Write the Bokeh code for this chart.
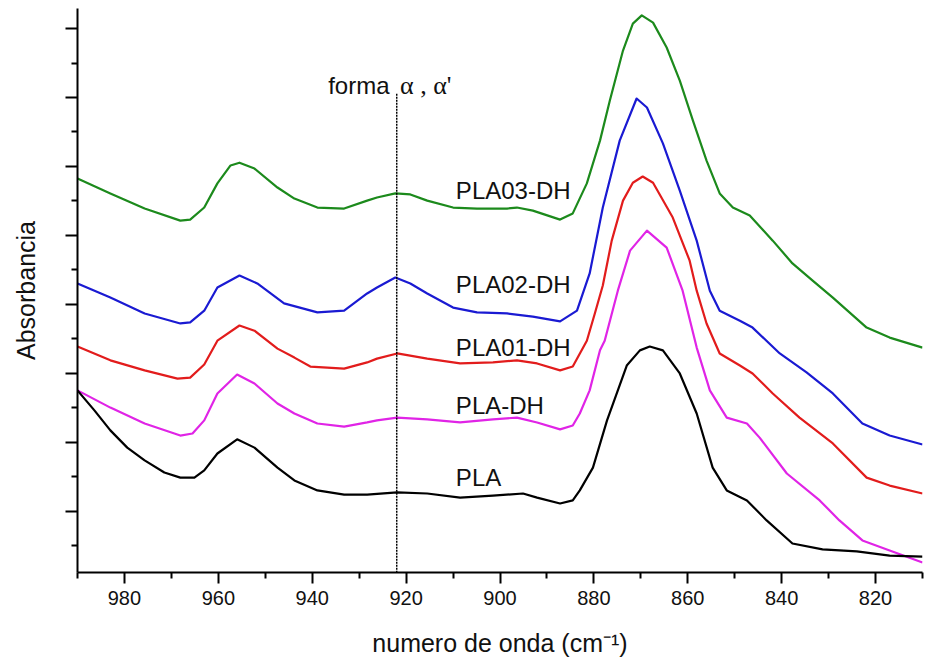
from bokeh.plotting import figure
from bokeh.models import Range1d, FixedTicker, CustomJSTickFormatter
from bokeh.core.properties import value
from bokeh.embed import file_html
from bokeh.resources import INLINE

# ---- data ----
green_x = [990, 983.0, 975.7, 968.1, 966.0, 963.0, 960.2, 957.4, 955.5, 952.3, 947.4, 943.8, 938.9, 933.2, 928.3, 926.2, 922.3, 919.1, 915.5, 910.0, 904.9, 898.5, 896.4, 893.0, 887.2, 884.5, 881.5, 878.7, 876.6, 873.8, 871.7, 869.8, 867.4, 864.5, 861.7, 858.9, 856.0, 853.2, 850.4, 846.8, 841.9, 837.7, 833.4, 829.1, 821.9, 817.0, 810.0]
green_y = [1.165, 1.122, 1.078, 1.043, 1.046, 1.081, 1.151, 1.203, 1.211, 1.194, 1.139, 1.107, 1.081, 1.078, 1.101, 1.110, 1.122, 1.119, 1.101, 1.081, 1.078, 1.078, 1.081, 1.072, 1.046, 1.064, 1.151, 1.275, 1.391, 1.536, 1.614, 1.638, 1.617, 1.545, 1.449, 1.333, 1.217, 1.122, 1.081, 1.058, 0.985, 0.919, 0.869, 0.820, 0.733, 0.704, 0.675]

blue_x = [990, 983.0, 975.7, 968.1, 966.0, 963.0, 960.2, 955.5, 951.7, 946.0, 938.9, 933.2, 928.3, 926.2, 922.3, 919.1, 915.5, 910.0, 904.9, 898.5, 893.0, 887.2, 883.6, 880.9, 878.1, 874.5, 870.9, 868.7, 865.3, 861.7, 858.1, 855.3, 853.2, 848.9, 846.2, 840.4, 834.7, 829.1, 822.8, 817.0, 810.0]
blue_y = [0.861, 0.820, 0.774, 0.745, 0.748, 0.782, 0.849, 0.884, 0.861, 0.803, 0.777, 0.782, 0.832, 0.849, 0.878, 0.861, 0.832, 0.791, 0.777, 0.774, 0.765, 0.751, 0.782, 0.890, 1.081, 1.275, 1.397, 1.371, 1.267, 1.130, 0.985, 0.840, 0.782, 0.753, 0.733, 0.658, 0.603, 0.542, 0.455, 0.420, 0.394]

red_x = [990, 983.0, 975.7, 968.7, 966.0, 963.0, 960.2, 955.5, 952.3, 947.4, 943.8, 940.4, 933.2, 928.3, 926.2, 921.9, 915.5, 908.5, 901.5, 896.4, 892.1, 887.2, 884.5, 881.5, 879.8, 878.1, 876.2, 873.8, 871.7, 869.6, 867.4, 863.2, 859.6, 858.1, 856.0, 853.2, 848.9, 846.2, 841.9, 836.2, 829.1, 821.9, 817.0, 810.0]
red_y = [0.678, 0.638, 0.609, 0.585, 0.588, 0.626, 0.695, 0.739, 0.724, 0.672, 0.646, 0.620, 0.614, 0.632, 0.643, 0.658, 0.643, 0.629, 0.632, 0.638, 0.629, 0.609, 0.620, 0.695, 0.774, 0.855, 0.985, 1.101, 1.153, 1.171, 1.153, 1.052, 0.927, 0.840, 0.745, 0.658, 0.623, 0.600, 0.542, 0.472, 0.397, 0.298, 0.275, 0.252]

magenta_x = [990, 983.0, 975.7, 968.1, 965.5, 963.0, 960.2, 956.0, 952.3, 947.4, 943.8, 938.9, 933.2, 928.3, 926.2, 921.9, 915.5, 908.5, 901.5, 896.4, 892.1, 887.2, 884.5, 883.0, 880.9, 878.7, 877.7, 874.9, 872.3, 868.7, 864.5, 861.1, 858.1, 855.3, 851.7, 847.4, 844.7, 838.9, 831.9, 827.7, 822.8, 817.0, 810.0]
magenta_y = [0.551, 0.501, 0.455, 0.420, 0.426, 0.464, 0.542, 0.597, 0.571, 0.513, 0.484, 0.455, 0.446, 0.458, 0.464, 0.472, 0.467, 0.458, 0.467, 0.472, 0.458, 0.438, 0.449, 0.484, 0.551, 0.667, 0.695, 0.840, 0.956, 1.014, 0.965, 0.840, 0.675, 0.551, 0.472, 0.455, 0.414, 0.310, 0.232, 0.174, 0.116, 0.087, 0.052]

black_x = [990, 986.4, 983.0, 979.4, 975.7, 971.5, 968.1, 965.1, 963.0, 960.2, 956.0, 952.3, 947.4, 943.8, 938.9, 933.2, 928.3, 921.9, 915.5, 908.5, 901.5, 895.1, 892.1, 887.2, 884.5, 883.0, 880.2, 877.2, 873.0, 870.2, 868.1, 865.3, 861.7, 858.1, 854.7, 851.7, 847.4, 843.2, 837.7, 831.3, 824.0, 817.0, 810.0]
black_y = [0.551, 0.493, 0.435, 0.385, 0.348, 0.313, 0.298, 0.298, 0.319, 0.368, 0.409, 0.385, 0.327, 0.290, 0.261, 0.249, 0.249, 0.255, 0.252, 0.240, 0.246, 0.252, 0.240, 0.223, 0.232, 0.261, 0.327, 0.464, 0.623, 0.667, 0.678, 0.667, 0.600, 0.484, 0.327, 0.261, 0.232, 0.174, 0.107, 0.090, 0.084, 0.072, 0.069]

series_names = ["PLA03-DH", "PLA02-DH", "PLA01-DH", "PLA-DH", "PLA"]
x_major_ticks = [980, 960, 940, 920, 900, 880, 860, 840, 820]
x_minor_ticks = [990, 970, 950, 930, 910, 890, 870, 850, 830, 810]
y_major_ticks = [0.2, 0.4, 0.6, 0.8, 1.0, 1.2, 1.4, 1.6]
y_minor_ticks = [0.1, 0.3, 0.5, 0.7, 0.9, 1.1, 1.3, 1.5]
marker_wavenumber = 922

# ---- styling / layout ----
colors = ["#1c8a1c", "#1a1ad2", "#e21c1c", "#e024e6", "#000000"]
label_pos = [(909.4, 1.130), (909.4, 0.858), (909.4, 0.675), (909.4, 0.507), (909.4, 0.298)]
SANS = "Liberation Sans"

p = figure(width=925, height=662, output_backend="svg", toolbar_location=None,
           x_range=Range1d(990, 810), y_range=Range1d(0.023, 1.658),
           min_border_left=77, min_border_right=3, min_border_top=8, min_border_bottom=90)
p.outline_line_color = None
p.xgrid.visible = False
p.ygrid.visible = False
p.background_fill_color = "white"
p.border_fill_color = "white"

xs = [green_x, blue_x, red_x, magenta_x, black_x]
ys = [green_y, blue_y, red_y, magenta_y, black_y]
for x, y, c in zip(xs, ys, colors):
    p.line(x, y, line_color=c, line_width=2.2, line_join="round")

for name, (lx, ly) in zip(series_names, label_pos):
    p.text(x=[lx], y=[ly], text=[name], text_font=value(SANS), text_font_size="24px",
           text_color="#111111", text_align="left", text_baseline="alphabetic")

# vertical dotted marker
p.line([marker_wavenumber, marker_wavenumber], [1.411, 0.023], line_color="black",
       line_width=1.5, line_dash="2 1")
p.text(x=[936.6], y=[1.435], text=["forma"], text_font=value(SANS), text_font_size="24px",
       text_color="#111111", text_align="left", text_baseline="alphabetic")
p.text(x=[921.3], y=[1.435], text=["\u03b1 , \u03b1'"], text_font=value("Liberation Serif"),
       text_font_size="26px", text_color="#111111", text_align="left", text_baseline="alphabetic")

# axes
xa = p.xaxis[0]
xa.ticker = FixedTicker(ticks=x_major_ticks, minor_ticks=x_minor_ticks)
xa.axis_label = "numero de onda (cm\u207b\u00b9)"
xa.axis_label_text_font = SANS
xa.axis_label_text_font_size = "25px"
xa.axis_label_text_font_style = "normal"
xa.axis_label_text_color = "#111111"
xa.axis_label_standoff = 21
xa.major_label_text_font = SANS
xa.major_label_text_font_size = "20px"
xa.major_label_text_color = "#111111"
xa.major_label_standoff = 7
xa.axis_line_width = 2
xa.major_tick_line_width = 2
xa.minor_tick_line_width = 2
xa.major_tick_out = 11
xa.major_tick_in = 0
xa.minor_tick_out = 6
xa.minor_tick_in = 0

ya = p.yaxis[0]
ya.ticker = FixedTicker(ticks=y_major_ticks, minor_ticks=y_minor_ticks)
ya.formatter = CustomJSTickFormatter(code="return ''")
ya.axis_label = "Absorbancia"
ya.axis_label_text_font = SANS
ya.axis_label_text_font_size = "25px"
ya.axis_label_text_font_style = "normal"
ya.axis_label_text_color = "#111111"
ya.major_label_standoff = 0
ya.axis_label_standoff = 26
ya.axis_line_width = 2
ya.major_tick_line_width = 2
ya.minor_tick_line_width = 2
ya.major_tick_out = 12
ya.major_tick_in = 0
ya.minor_tick_out = 6
ya.minor_tick_in = 0

open("out.html", "w").write(file_html(p, INLINE))
